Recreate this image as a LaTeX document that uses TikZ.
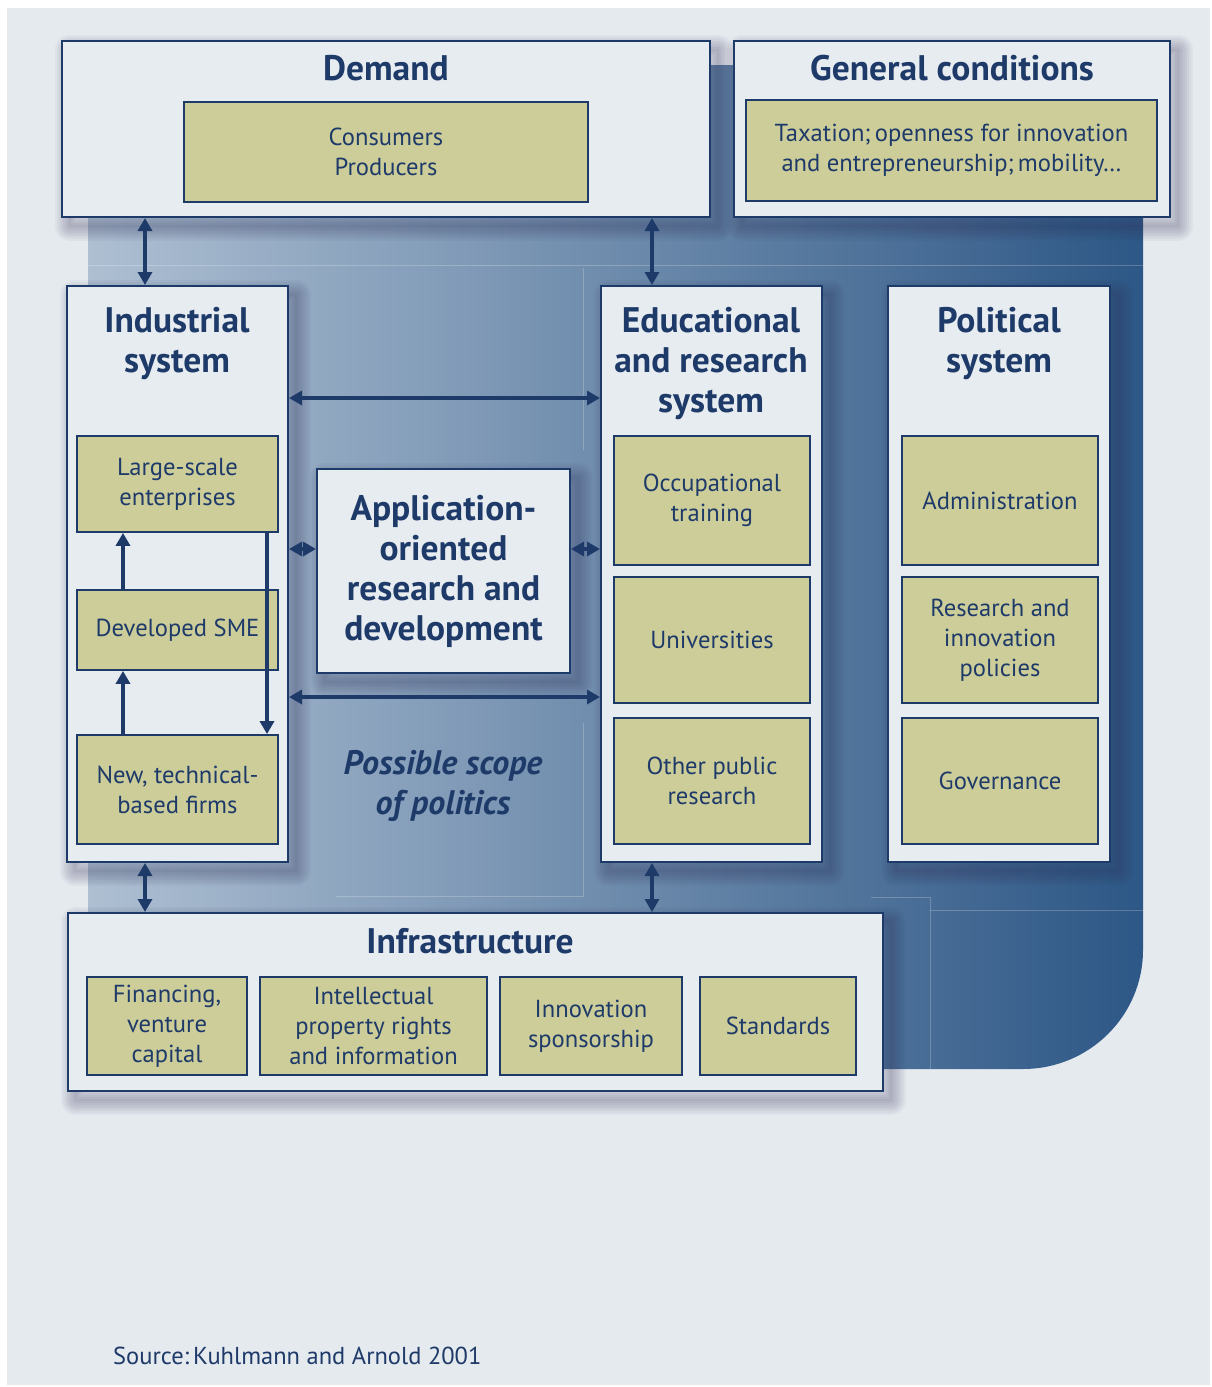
\documentclass[tikz,border=0pt]{standalone}
\usepackage{fontspec}
\setmainfont{PT Sans}
\usetikzlibrary{arrows.meta}

\definecolor{pagebg}{HTML}{E5EAEF}
\definecolor{boxfill}{HTML}{E7ECF1}
\definecolor{inkblue}{HTML}{1E3A68}
\definecolor{khaki}{HTML}{CDCD9A}
\definecolor{panelL}{HTML}{AEBFD2}
\definecolor{panelM}{HTML}{7893B2}
\definecolor{panelR}{HTML}{2D5786}
\definecolor{shadowc}{HTML}{2E2E55}

\begin{document}
\begin{tikzpicture}[x=1pt,y=-1pt,
  shadowlayer/.style={draw=shadowc, line width=#1, draw opacity=0.045, line join=round,
    transform canvas={shift={(8pt,-9pt)}}},
  softshadow/.style={
    preaction={shadowlayer=30pt}, preaction={shadowlayer=26pt},
    preaction={shadowlayer=22pt}, preaction={shadowlayer=18pt},
    preaction={shadowlayer=14pt}, preaction={shadowlayer=10pt},
    preaction={shadowlayer=6pt}, preaction={shadowlayer=2pt}},
  outerbox/.style={softshadow, draw=inkblue, line width=2pt, fill=boxfill, inner sep=0pt},
  innerbox/.style={draw=inkblue, line width=1.8pt, fill=khaki, inner sep=0pt,
    text=inkblue, align=center, font=\fontsize{24.6}{30}\selectfont},
  title/.style={text=inkblue, align=center, font=\fontsize{35.5}{40}\selectfont\bfseries, inner sep=0pt},
  link/.style={draw=inkblue, line width=4pt,
    {Triangle[length=13pt,width=14pt]}-{Triangle[length=13pt,width=14pt]}},
  uplink/.style={draw=inkblue, line width=4pt, -{Triangle[length=13pt,width=14pt]}},
  seam/.style={draw=white, opacity=0.22, line width=1pt}
]
\useasboundingbox (0,0) rectangle (1212,1387);
\fill[white] (0,0) rectangle (1212,1387);
\fill[pagebg] (7,8) rectangle (1210,1385);

% blue backdrop with a rounded lower right corner
\shade[left color=panelL, middle color=panelM, right color=panelR]
  (88,65) -- (1143,65) -- (1143,950)
  .. controls (1143,1016) and (1089,1069) .. (1023,1069)
  -- (88,1069) -- cycle;
% faint seams across the backdrop
\draw[seam] (88,265) -- (1143,265);
\draw[seam] (583,268) -- (583,450);
\draw[seam] (583,723) -- (583,896) -- (336,896);
\draw[seam] (871,897) -- (930,897) -- (930,1069);
\draw[seam] (930,910) -- (1143,910);

% outer frames
\node[outerbox, minimum width=648pt, minimum height=176pt] (demand) at (386,129) {};
\node[outerbox, minimum width=436pt, minimum height=176pt] (general) at (952,129) {};
\node[outerbox, minimum width=221pt, minimum height=576pt] (industrial) at (177.5,574) {};
\node[outerbox, minimum width=221pt, minimum height=576pt] (educational) at (711.5,574) {};
\node[outerbox, minimum width=222pt, minimum height=576pt] (political) at (999,574) {};
\node[outerbox, minimum width=815pt, minimum height=178pt] (infrastructure) at (475.5,1002) {};
\node[outerbox, minimum width=253pt, minimum height=204pt, title] (application) at (443.5,571)
  {Application-\\oriented\\research and\\development};

% titles
\node[title] (demandT) at (386,68) {Demand};
\node[title] (generalT) at (952,68) {General conditions};
\node[title] (industrialT) at (177,344) {Industrial\\system};
\node[title] (educationalT) at (711,364) {Educational\\and research\\system};
\node[title] (politicalT) at (999,344) {Political\\system};
\node[title] (infrastructureT) at (470,941) {Infrastructure};

% inner boxes
\node[innerbox, minimum width=404pt, minimum height=100pt] (consumers) at (386,152) {Consumers\\Producers};
\node[innerbox, minimum width=411pt, minimum height=101pt] (taxation) at (951.5,150.5)
  {Taxation;\,openness for innovation\\and entrepreneurship;\,mobility\dots};

\node[innerbox, minimum width=201pt, minimum height=96pt] (large) at (177.5,484) {Large-scale\\enterprises};
\node[innerbox, minimum width=201pt, minimum height=80pt] (sme) at (177.5,630) {\raisebox{4pt}{Developed SME}};
\node[innerbox, minimum width=201pt, minimum height=109pt] (newfirms) at (177.5,789.5) {New, technical-\\based firms};

\node[innerbox, minimum width=196pt, minimum height=129pt] (occupational) at (712,500.5) {Occupational\\training};
\node[innerbox, minimum width=196pt, minimum height=126pt] (universities) at (712,640) {Universities};
\node[innerbox, minimum width=196pt, minimum height=126pt] (otherpublic) at (712,781) {Other public\\research};

\node[innerbox, minimum width=196pt, minimum height=129pt] (administration) at (1000,500.5) {Administration};
\node[innerbox, minimum width=196pt, minimum height=126pt] (policies) at (1000,640) {Research and\\innovation\\policies};
\node[innerbox, minimum width=196pt, minimum height=126pt] (governance) at (1000,781) {Governance};

\node[innerbox, minimum width=160pt, minimum height=98pt] (financing) at (167,1026) {Financing,\\venture\\capital};
\node[innerbox, minimum width=227pt, minimum height=98pt] (intellectual) at (373.5,1026) {Intellectual\\property rights\\and information};
\node[innerbox, minimum width=182pt, minimum height=98pt] (sponsorship) at (591,1026) {Innovation\\sponsorship};
\node[innerbox, minimum width=156pt, minimum height=98pt] (standards) at (778,1026) {Standards};

% scope label and source
\node[text=inkblue, align=center, font=\fontsize{34}{40}\selectfont\bfseries\itshape] (scope) at (443,786)
  {Possible scope\\of politics};
\node[text=inkblue, anchor=base west, inner sep=0pt, font=\fontsize{24.5}{28}\selectfont] (source) at (113,1364)
  {Source:\,Kuhlmann and Arnold 2001};

% reference columns and rows for the connectors
\coordinate (colL) at (145,0);
\coordinate (colR) at (652,0);
\coordinate (colUp) at (123,0);
\coordinate (colDown) at (267,0);
\coordinate (rowTop) at (0,398);
\coordinate (rowMid) at (0,549);
\coordinate (rowLow) at (0,697);

% connectors
\draw[link] (demand.south -| colL) -- (industrial.north -| colL);
\draw[link] (demand.south -| colR) -- (educational.north -| colR);
\draw[link] (industrial.south -| colL) -- (infrastructure.north -| colL);
\draw[link] (educational.south -| colR) -- (infrastructure.north -| colR);
\draw[link] (industrial.east |- rowTop) -- (educational.west |- rowTop);
\draw[link] (industrial.east |- rowLow) -- (educational.west |- rowLow);
\draw[link] (industrial.east |- rowMid) -- (application.west |- rowMid);
\draw[link] (application.east |- rowMid) -- (educational.west |- rowMid);
\draw[uplink] (sme.north -| colUp) -- (large.south -| colUp);
\draw[uplink] (newfirms.north -| colUp) -- (sme.south -| colUp);
\draw[uplink] (large.south -| colDown) -- (newfirms.north -| colDown);
\end{tikzpicture}
\end{document}
